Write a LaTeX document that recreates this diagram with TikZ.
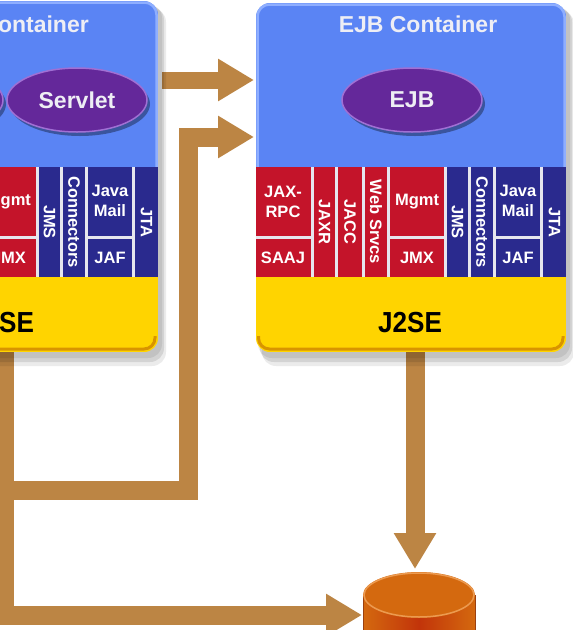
\documentclass[tikz,border=0pt]{standalone}
\usepackage{fontspec}
\setmainfont{Liberation Sans}
\usetikzlibrary{arrows.meta,shapes.geometric}
\definecolor{cblue}{HTML}{5A84F4}
\definecolor{cbluehi}{HTML}{8EAEFF}
\definecolor{cpurple}{HTML}{64289A}
\definecolor{cpurplehi}{HTML}{A070D4}
\definecolor{cred}{HTML}{C4142A}
\definecolor{cdblue}{HTML}{2A2A8E}
\definecolor{cyellow}{HTML}{FFD400}
\definecolor{cyellowdk}{HTML}{D89400}
\definecolor{cbrown}{HTML}{BC8544}
\definecolor{csep}{HTML}{E6E6EE}
\definecolor{cdbtop}{HTML}{D4690F}
\definecolor{cdbbody}{HTML}{C2340A}
\definecolor{cdbhi}{HTML}{EC9A50}
\definecolor{cdbedge}{HTML}{9A4010}
\definecolor{ctitle}{HTML}{EEEEF4}

\newcommand\jframe[4]{%
  \fill[black,opacity=0.08,rounded corners=14] (#1+2,#2+3) rectangle (#3+4,#4+6);
  \fill[black,opacity=0.10,rounded corners=14] (#1+4,#2+5) rectangle (#3+6,#4+10);
  \fill[black,opacity=0.08,rounded corners=14] (#1+6,#2+7) rectangle (#3+8,#4+14);
  \begin{scope}
    \clip[rounded corners=14] (#1,#2) rectangle (#3,#4);
    \fill[cblue] (#1,#2) rectangle (#3,167);
    \fill[csep] (#1,167) rectangle (#3,277);
    \fill[cyellow] (#1,277) rectangle (#3,#4);
  \end{scope}
  \draw[cbluehi,line width=2.5,rounded corners=12] (#1+1.5,167) -- (#1+1.5,#2+1.5) -- (#3-1.5,#2+1.5) -- (#3-1.5,167);
  \draw[cyellowdk,line width=3,rounded corners=11] (#1+2.5,#4-16) -- (#1+2.5,#4-3) -- (#3-3,#4-3) -- (#3-3,#4-16);
}
\newcommand\jcol[3]{\fill[#3] (#1,167) rectangle (#2,277);}
\newcommand\jscol[3]{\fill[#3] (#1,167) rectangle (#2,236); \fill[#3] (#1,239) rectangle (#2,277);}

\tikzset{
  conn/.style={draw=cbrown,line width=19pt,line join=miter,-{Triangle[width=40pt,length=36pt]}},
  stk/.style={text=white,font=\bfseries\fontsize{16.5}{20}\selectfont,inner sep=0pt,align=center},
  vstk/.style={stk,rotate=-90},
  ctitle/.style={text=ctitle,font=\bfseries\fontsize{23}{23}\selectfont,inner sep=0pt},
  bean/.style={ellipse,fill=cpurple,draw=cpurplehi,line width=1.5pt,minimum width=140pt,minimum height=64pt,inner sep=0pt,text=ctitle,font=\bfseries\fontsize{23}{23}\selectfont},
  jtwo/.style={text=black,font=\bfseries\fontsize{29}{29}\selectfont,xscale=0.9,inner sep=0pt}
}

\begin{document}
\begin{tikzpicture}[x=1pt,y=-1pt]
\useasboundingbox (0,0) rectangle (573,630);
\clip (0,0) rectangle (573,630);
\fill[white] (0,0) rectangle (573,630);

% connector end points
\coordinate (a1s) at (162,80);
\coordinate (a1e) at (254,80);
\coordinate (wb) at (4,340);
\coordinate (j1) at (4,490);
\coordinate (c1) at (188,490);
\coordinate (c2) at (188,137);
\coordinate (a2e) at (254,137);
\coordinate (c3) at (4,615);
\coordinate (dbw) at (362,615);
\coordinate (eb) at (415,340);
\coordinate (dbt) at (415,569);

% connectors
\draw[conn,line width=17pt] (a1s) -- (a1e);
\draw[conn] (j1) -- (c1) -- (c2) -- (a2e);
\draw[conn] (wb) -- (c3) -- (dbw);
\draw[conn] (eb) -- (dbt);

% ---------- Web container (cropped) ----------
\jframe{-152}{1}{158}{352}
\jscol{-18}{36}{cred}
\jcol{39}{60}{cdblue}
\jcol{63}{85}{cdblue}
\jscol{88}{132}{cdblue}
\jcol{135}{158}{cdblue}
\node[ctitle,anchor=east] (webtitle) at (89,24) {Web Container};
\fill[black,opacity=0.35] (-64,104) ellipse [x radius=70,y radius=32];
\node[bean] (jsp) at (-67,100) {};
\fill[black,opacity=0.35] (80,104) ellipse [x radius=70,y radius=32];
\node[bean] (servlet) at (77,100) {Servlet};
\node[stk] (wmgmt) at (9,202) {Mgmt};
\node[stk] (wjmx) at (9,258) {JMX};
\node[vstk] (wjms) at (49.5,222) {JMS};
\node[vstk] (wconn) at (74,222) {Connectors};
\node[stk] (wmail) at (110,201) {Java\\Mail};
\node[stk] (wjaf) at (110,258) {JAF};
\node[vstk] (wjta) at (146.5,222) {JTA};
\node[jtwo] (wj2se) at (2,323) {J2SE};

% ---------- EJB container ----------
\jframe{256}{3}{566}{352}
\jscol{256}{311}{cred}
\jcol{314}{335}{cred}
\jcol{338}{362}{cred}
\jcol{365}{387}{cred}
\jscol{390}{444}{cred}
\jcol{447}{468}{cdblue}
\jcol{471}{493}{cdblue}
\jscol{496}{540}{cdblue}
\jcol{543}{566}{cdblue}
\node[ctitle] (ejbtitle) at (418,24) {EJB Container};
\fill[black,opacity=0.35] (415,104) ellipse [x radius=70,y radius=32];
\node[bean] (ejb) at (412,100) {EJB};
\node[stk] (jaxrpc) at (283,202) {JAX-\\RPC};
\node[stk] (saaj) at (283,258) {SAAJ};
\node[vstk] (jaxr) at (324.5,222) {JAXR};
\node[vstk] (jacc) at (350,222) {JACC};
\node[vstk] (websrv) at (376,222) {Web Srvcs};
\node[stk] (mgmt) at (417,202) {Mgmt};
\node[stk] (jmx) at (417,258) {JMX};
\node[vstk] (jms) at (457.5,222) {JMS};
\node[vstk] (connectors) at (482,222) {Connectors};
\node[stk] (javamail) at (518,201) {Java\\Mail};
\node[stk] (jaf) at (518,258) {JAF};
\node[vstk] (jta) at (554.5,222) {JTA};
\node[jtwo] (j2se) at (410,323) {J2SE};

% ---------- database ----------
\shade[left color=cdbtop,right color=cdbtop,middle color=cdbbody] (363,595) rectangle (475,660);
\draw[cdbedge,line width=1pt] (363,595) -- (363,660) (475,595) -- (475,660);
\fill[cdbtop] (419,595) ellipse [x radius=56,y radius=23];
\draw[cdbhi,line width=1.5pt] (419,595) ellipse [x radius=55,y radius=22];
\end{tikzpicture}
\end{document}
